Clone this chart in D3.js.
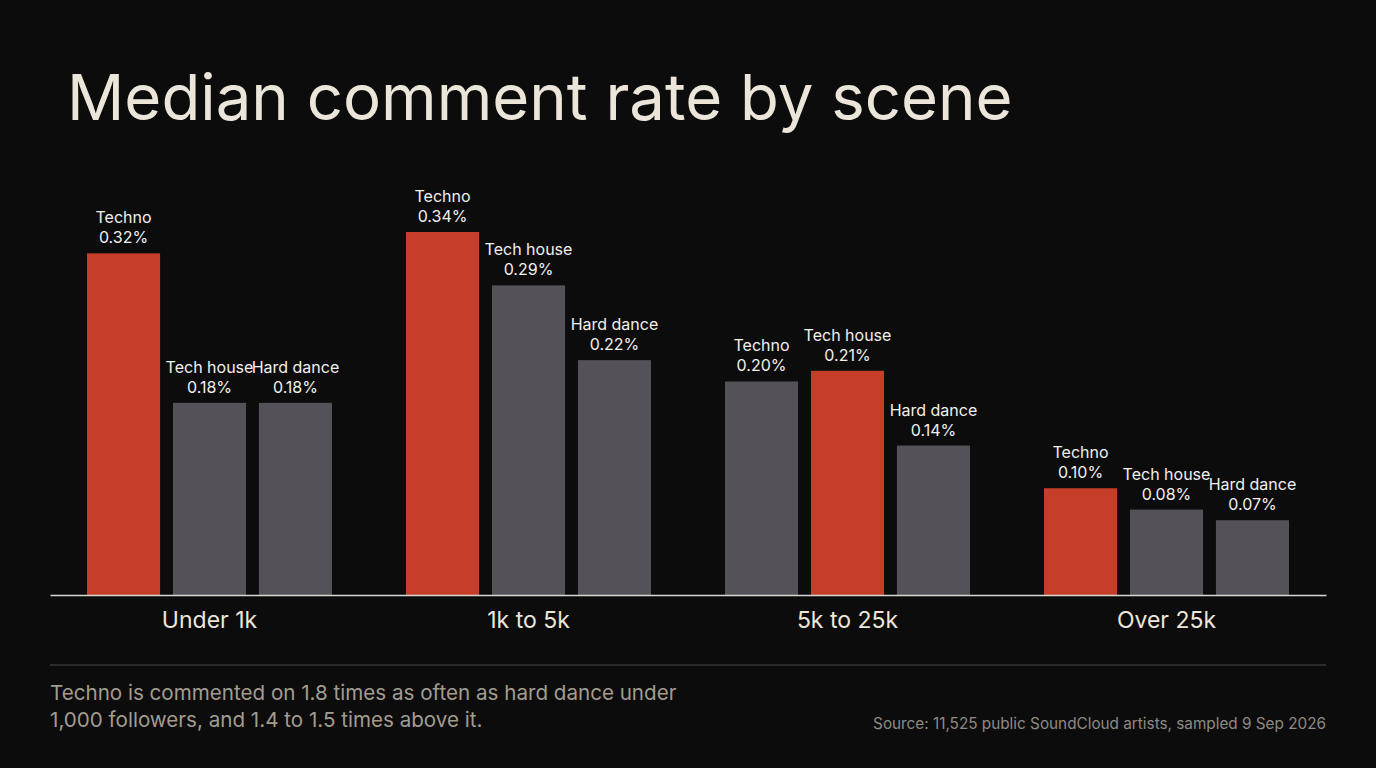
<!DOCTYPE html>
<html lang="en">
<head>
	<meta charset="utf-8" />
	<title>Median comment rate by scene</title>
	<style>
		body {
			margin: 0;
			padding: 0;
			background: #0c0c0c;
		}
		svg text {
			font-family: 'Inter', 'Roboto', sans-serif;
		}
	</style>
	<script src="https://d3js.org/d3.v7.min.js"></script>
</head>
<body>
	<div id="chart"></div>
	<script>
	// follower tiers and scenes
	const tiers = ["Under 1k", "1k to 5k", "5k to 25k", "Over 25k"];
	const scenes = ["Techno", "Tech house", "Hard dance"];
	// median comment rate, percent
	const techno = [0.32, 0.34, 0.20, 0.10];
	const techHouse = [0.18, 0.29, 0.21, 0.08];
	const hardDance = [0.18, 0.22, 0.14, 0.07];

	const W = 1376, H = 768;
	const margin = { left: 50, right: 50, base: 595 };

	const rows = tiers.map((t, i) => {
		const vals = [techno[i], techHouse[i], hardDance[i]];
		const top = d3.max(vals);
		return { tier: t, bars: scenes.map((s, j) => ({ scene: s, value: vals[j], top: vals[j] === top })) };
	});

	const svg = d3.select("#chart")
		.append("svg")
		.attr("width", W)
		.attr("height", H);

	svg.append("rect").attr("width", W).attr("height", H).attr("fill", "#0c0c0c");

	svg.append("text")
		.attr("x", 67)
		.attr("y", 120)
		.attr("fill", "#ece6da")
		.attr("font-size", 63.5)
		.attr("font-weight", 400)
		.text("Median comment rate by scene");

	const x0 = d3.scaleBand()
		.domain(tiers)
		.range([margin.left, W - margin.right])
		.paddingInner(0)
		.paddingOuter(0);

	const x1 = d3.scaleBand()
		.domain(scenes)
		.range([37, x0.bandwidth() - 37])
		.paddingInner(0.15);

	const y = d3.scaleLinear()
		.domain([0, 0.34])
		.range([margin.base, 232]);

	const g = svg.selectAll("g.tier")
		.data(rows)
		.enter()
		.append("g")
		.attr("class", "tier")
		.attr("transform", d => `translate(${x0(d.tier)},0)`);

	g.selectAll("rect")
		.data(d => d.bars)
		.enter()
		.append("rect")
		.attr("x", d => x1(d.scene))
		.attr("y", d => y(d.value))
		.attr("width", x1.bandwidth())
		.attr("height", d => y(0) - y(d.value))
		.attr("fill", d => d.top ? "#c63e29" : "#545258");

	const lab = g.selectAll("text.lab")
		.data(d => d.bars)
		.enter()
		.append("text")
		.attr("class", "lab")
		.attr("text-anchor", "middle")
		.attr("fill", "#f2f0ec")
		.attr("font-size", 16)
		.attr("x", d => x1(d.scene) + x1.bandwidth() / 2);

	lab.append("tspan")
		.attr("x", d => x1(d.scene) + x1.bandwidth() / 2)
		.attr("y", d => y(d.value) - 30)
		.text(d => d.scene);
	lab.append("tspan")
		.attr("x", d => x1(d.scene) + x1.bandwidth() / 2)
		.attr("y", d => y(d.value) - 10)
		.text(d => d3.format(".2f")(d.value) + "%");

	// baseline and tier labels
	const xAxis = d3.axisBottom(x0).tickSize(0).tickPadding(17);
	const ax = svg.append("g")
		.attr("transform", `translate(0,${margin.base})`)
		.call(xAxis);
	ax.select(".domain").attr("stroke", "#d8d6d2").attr("stroke-width", 1.5);
	ax.selectAll(".tick text")
		.attr("fill", "#ece6da")
		.attr("font-size", 23)
		.attr("font-family", "Inter, sans-serif");

	svg.append("line")
		.attr("x1", margin.left).attr("x2", W - margin.right)
		.attr("y1", 665).attr("y2", 665)
		.attr("stroke", "#4a4845").attr("stroke-width", 1.2);

	const note = svg.append("text")
		.attr("fill", "#a29c90")
		.attr("font-size", 20.6)
		.attr("font-family", "Roboto, Inter, sans-serif");
	note.append("tspan").attr("x", 50).attr("y", 700)
		.text("Techno is commented on 1.8 times as often as hard dance under");
	note.append("tspan").attr("x", 50).attr("y", 727)
		.text("1,000 followers, and 1.4 to 1.5 times above it.");

	svg.append("text")
		.attr("x", W - margin.right)
		.attr("y", 729)
		.attr("text-anchor", "end")
		.attr("fill", "#8f8a82")
		.attr("font-size", 15.3)
		.text("Source: 11,525 public SoundCloud artists, sampled 9 Sep 2026");
	</script>
</body>
</html>
